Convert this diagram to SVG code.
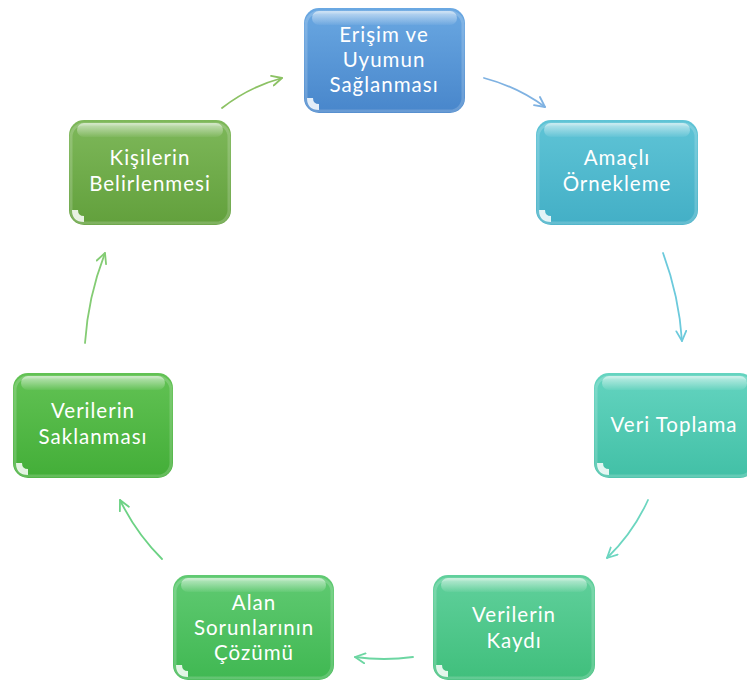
<svg xmlns="http://www.w3.org/2000/svg" width="747" height="682" viewBox="0 0 747 682">
<style>
.lbl{font-family:Lato,"Open Sans","Liberation Sans",sans-serif;font-size:20.5px;letter-spacing:1px;fill:#ffffff;text-anchor:middle}
.conn{fill:none;stroke-width:1.8;stroke-linecap:round}
.hl{fill:url(#hlg)}
.edge{fill:none;stroke:#ffffff;stroke-opacity:0.18;stroke-width:3}
.corner{fill:#ffffff;fill-opacity:0.85}
</style>
<defs>
<linearGradient id="hlg" x1="0" y1="0" x2="0" y2="1">
<stop offset="0" stop-color="#ffffff" stop-opacity="0.6"/>
<stop offset="1" stop-color="#ffffff" stop-opacity="0.05"/>
</linearGradient>
<linearGradient id="g1" x1="0" y1="0" x2="0" y2="1"><stop offset="0" stop-color="#6aa8e2"/><stop offset="1" stop-color="#4886cb"/></linearGradient>
<linearGradient id="g2" x1="0" y1="0" x2="0" y2="1"><stop offset="0" stop-color="#5fc4d6"/><stop offset="1" stop-color="#43afc6"/></linearGradient>
<linearGradient id="g3" x1="0" y1="0" x2="0" y2="1"><stop offset="0" stop-color="#64d4c0"/><stop offset="1" stop-color="#42c0a6"/></linearGradient>
<linearGradient id="g4" x1="0" y1="0" x2="0" y2="1"><stop offset="0" stop-color="#60d09c"/><stop offset="1" stop-color="#40bf7c"/></linearGradient>
<linearGradient id="g5" x1="0" y1="0" x2="0" y2="1"><stop offset="0" stop-color="#60ca72"/><stop offset="1" stop-color="#40b852"/></linearGradient>
<linearGradient id="g6" x1="0" y1="0" x2="0" y2="1"><stop offset="0" stop-color="#62c254"/><stop offset="1" stop-color="#43ae38"/></linearGradient>
<linearGradient id="g7" x1="0" y1="0" x2="0" y2="1"><stop offset="0" stop-color="#7eb85a"/><stop offset="1" stop-color="#62a03c"/></linearGradient>
<marker id="a1" viewBox="0 0 12 12" refX="11" refY="6" markerWidth="12" markerHeight="12" markerUnits="userSpaceOnUse" orient="auto"><path d="M1,1 L11,6 L1,11" fill="none" stroke="#7fb2e2" stroke-width="1.8" stroke-linecap="round" stroke-linejoin="round"/></marker>
<marker id="a2" viewBox="0 0 12 12" refX="11" refY="6" markerWidth="12" markerHeight="12" markerUnits="userSpaceOnUse" orient="auto"><path d="M1,1 L11,6 L1,11" fill="none" stroke="#6ccadc" stroke-width="1.8" stroke-linecap="round" stroke-linejoin="round"/></marker>
<marker id="a3" viewBox="0 0 12 12" refX="11" refY="6" markerWidth="12" markerHeight="12" markerUnits="userSpaceOnUse" orient="auto"><path d="M1,1 L11,6 L1,11" fill="none" stroke="#6cd6c0" stroke-width="1.8" stroke-linecap="round" stroke-linejoin="round"/></marker>
<marker id="a4" viewBox="0 0 12 12" refX="11" refY="6" markerWidth="12" markerHeight="12" markerUnits="userSpaceOnUse" orient="auto"><path d="M1,1 L11,6 L1,11" fill="none" stroke="#6cd6a2" stroke-width="1.8" stroke-linecap="round" stroke-linejoin="round"/></marker>
<marker id="a5" viewBox="0 0 12 12" refX="11" refY="6" markerWidth="12" markerHeight="12" markerUnits="userSpaceOnUse" orient="auto"><path d="M1,1 L11,6 L1,11" fill="none" stroke="#6cd284" stroke-width="1.8" stroke-linecap="round" stroke-linejoin="round"/></marker>
<marker id="a6" viewBox="0 0 12 12" refX="11" refY="6" markerWidth="12" markerHeight="12" markerUnits="userSpaceOnUse" orient="auto"><path d="M1,1 L11,6 L1,11" fill="none" stroke="#84cc74" stroke-width="1.8" stroke-linecap="round" stroke-linejoin="round"/></marker>
<marker id="a7" viewBox="0 0 12 12" refX="11" refY="6" markerWidth="12" markerHeight="12" markerUnits="userSpaceOnUse" orient="auto"><path d="M1,1 L11,6 L1,11" fill="none" stroke="#8cc264" stroke-width="1.8" stroke-linecap="round" stroke-linejoin="round"/></marker>
</defs>

<g id="connectors">
<path class="conn" stroke="#7fb2e2" marker-end="url(#a1)" d="M484,78 Q518,87 545,107"/>
<path class="conn" stroke="#6ccadc" marker-end="url(#a2)" d="M663,253 Q679,296 682,341"/>
<path class="conn" stroke="#6cd6c0" marker-end="url(#a3)" d="M648,500 Q633,533 607,558"/>
<path class="conn" stroke="#6cd6a2" marker-end="url(#a4)" d="M413,657 Q384,661 355,657"/>
<path class="conn" stroke="#6cd284" marker-end="url(#a5)" d="M162,559 Q136,533 120,500"/>
<path class="conn" stroke="#84cc74" marker-end="url(#a6)" d="M85,343 Q88,297 105,253"/>
<path class="conn" stroke="#8cc264" marker-end="url(#a7)" d="M222,108 Q249,87 282,78"/>
</g>

<g id="node1">
<rect x="304" y="8" width="161" height="105" rx="15" fill="url(#g1)"/>
<rect x="312" y="11" width="145" height="14" rx="7" class="hl"/>
<rect x="306" y="12" width="157" height="99" rx="13" class="edge"/>
<path class="corner" d="M307,98 Q307,110 319,110 L319,104 Q313,104 313,98 Z"/>
<text class="lbl" x="384" y="42">Erişim ve</text>
<text class="lbl" x="384" y="67">Uyumun</text>
<text class="lbl" x="384" y="92">Sağlanması</text>
</g>

<g id="node2">
<rect x="536" y="120" width="162" height="105" rx="15" fill="url(#g2)"/>
<rect x="544" y="123" width="146" height="14" rx="7" class="hl"/>
<rect x="538" y="124" width="158" height="99" rx="13" class="edge"/>
<path class="corner" d="M539,210 Q539,222 551,222 L551,216 Q545,216 545,210 Z"/>
<text class="lbl" x="617" y="165">Amaçlı</text>
<text class="lbl" x="617" y="191">Örnekleme</text>
</g>

<g id="node3">
<rect x="594" y="373" width="161" height="105" rx="15" fill="url(#g3)"/>
<rect x="602" y="376" width="145" height="14" rx="7" class="hl"/>
<rect x="596" y="377" width="157" height="99" rx="13" class="edge"/>
<path class="corner" d="M597,463 Q597,475 609,475 L609,469 Q603,469 603,463 Z"/>
<text class="lbl" x="674" y="432">Veri Toplama</text>
</g>

<g id="node4">
<rect x="433" y="575" width="162" height="105" rx="15" fill="url(#g4)"/>
<rect x="441" y="578" width="146" height="14" rx="7" class="hl"/>
<rect x="435" y="579" width="158" height="99" rx="13" class="edge"/>
<path class="corner" d="M436,665 Q436,677 448,677 L448,671 Q442,671 442,665 Z"/>
<text class="lbl" x="514" y="622">Verilerin</text>
<text class="lbl" x="514" y="648">Kaydı</text>
</g>

<g id="node5">
<rect x="173" y="575" width="161" height="105" rx="15" fill="url(#g5)"/>
<rect x="181" y="578" width="145" height="14" rx="7" class="hl"/>
<rect x="175" y="579" width="157" height="99" rx="13" class="edge"/>
<path class="corner" d="M176,665 Q176,677 188,677 L188,671 Q182,671 182,665 Z"/>
<text class="lbl" x="254" y="610">Alan</text>
<text class="lbl" x="254" y="635">Sorunlarının</text>
<text class="lbl" x="254" y="660">Çözümü</text>
</g>

<g id="node6">
<rect x="13" y="373" width="160" height="105" rx="15" fill="url(#g6)"/>
<rect x="21" y="376" width="144" height="14" rx="7" class="hl"/>
<rect x="15" y="377" width="156" height="99" rx="13" class="edge"/>
<path class="corner" d="M16,463 Q16,475 28,475 L28,469 Q22,469 22,463 Z"/>
<text class="lbl" x="93" y="418">Verilerin</text>
<text class="lbl" x="93" y="444">Saklanması</text>
</g>

<g id="node7">
<rect x="69" y="120" width="162" height="105" rx="15" fill="url(#g7)"/>
<rect x="77" y="123" width="146" height="14" rx="7" class="hl"/>
<rect x="71" y="124" width="158" height="99" rx="13" class="edge"/>
<path class="corner" d="M72,210 Q72,222 84,222 L84,216 Q78,216 78,210 Z"/>
<text class="lbl" x="150" y="165">Kişilerin</text>
<text class="lbl" x="150" y="191">Belirlenmesi</text>
</g>
</svg>
